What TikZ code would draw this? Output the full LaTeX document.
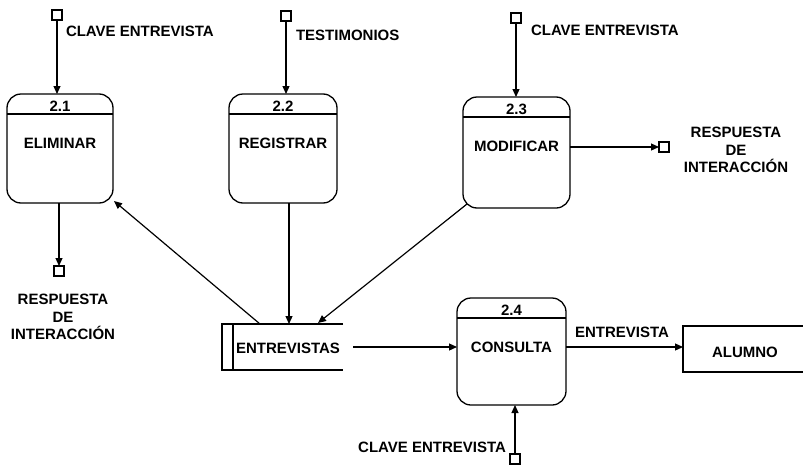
\documentclass[tikz,border=0pt]{standalone}
\usepackage{fontspec}
\setmainfont{Liberation Sans}
\usetikzlibrary{arrows.meta,calc}
\begin{document}
\begin{tikzpicture}[x=1pt,y=-1pt,
  every node/.style={font=\fontsize{15}{17.5}\selectfont\bfseries, inner sep=0pt, outer sep=0pt},
  proc/.style={draw, line width=1.3pt, rounded corners=14pt},
  ln/.style={line width=1.3pt},
  sq/.style={draw, line width=1.2pt, minimum size=10pt},
  arr/.style={line width=1.2pt, -{Triangle[length=8pt,width=7pt]}},
  lbl/.style={align=center}]
  \clip (0,0) rectangle (803,466);
  % processes
  \node[proc, minimum width=106pt, minimum height=109pt] (p21) at (60,148.5) {};
  \node[proc, minimum width=108pt, minimum height=109pt] (p22) at (283,148.5) {};
  \node[proc, minimum width=107pt, minimum height=111pt] (p23) at (516.5,152.5) {};
  \node[proc, minimum width=109pt, minimum height=107pt] (p24) at (511.5,351.5) {};
  \foreach \p/\n/\t in {p21/2.1/ELIMINAR, p22/2.2/REGISTRAR, p23/2.3/MODIFICAR, p24/2.4/CONSULTA}{
    \draw[ln] ([yshift=-20pt]\p.north west) -- ([yshift=-20pt]\p.north east);
    \node (\p num) at ([yshift=-12.5pt]\p.north) {\n};
    \node (\p txt) at ([yshift=-49pt]\p.north) {\t};
  }
  % data store
  \node[minimum width=121pt, minimum height=46pt] (st) at (282.5,347) {};
  \draw[ln] (st.north east) -- (st.north west) -- (st.south west) -- (st.south east);
  \draw[ln] ([xshift=11pt]st.north west) -- ([xshift=11pt]st.south west);
  \node (sttxt) at (288,348) {ENTREVISTAS};
  % external entity
  \node[minimum width=160pt, minimum height=46pt] (al) at (763,349) {};
  \draw[ln] (al.north east) -- (al.north west) -- (al.south west) -- (al.south east);
  \node (altxt) at (745,352) {ALUMNO};
  % small squares
  \node[sq] (sq1) at (57,15) {};
  \node[sq] (sq2) at (286,16) {};
  \node[sq] (sq3) at (516,18) {};
  \node[sq] (sq4) at (59,271) {};
  \node[sq] (sq5) at (664,147) {};
  \node[sq] (sq6) at (515,459) {};
  % coordinates
  \coordinate (s1) at (260,324);
  \coordinate (s2) at (289,324);
  \coordinate (s3) at (318,323);
  % connectors
  \draw[arr] (sq1) -- (sq1 |- p21.north);
  \draw[arr] (sq2) -- (sq2 |- p22.north);
  \draw[arr] (sq3) -- (sq3 |- p23.north);
  \draw[arr] (sq5 -| p23.east) -- (sq5.west);
  \draw[arr] (sq4 |- p21.south) -- (sq4.north);
  \draw[arr] (s1) -- ([shift={(1pt,2pt)}]p21.south east);
  \draw[arr] (s2 |- p22.south) -- (s2);
  \draw[arr] ([shift={(4pt,4pt)}]p23.south west) -- (s3);
  \draw[arr] ([xshift=10pt]st.east) -- (st.east -| p24.west);
  \draw[arr] (st.east -| p24.east) -- (st.east -| al.west);
  \draw[arr] (sq6) -- (sq6 |- p24.south);
  % labels
  \node[anchor=west] (l1) at (66,31) {CLAVE ENTREVISTA};
  \node[anchor=west] (l2) at (296,35) {TESTIMONIOS};
  \node[anchor=west] (l3) at (531,30) {CLAVE ENTREVISTA};
  \node[lbl] (l4) at (736,150) {RESPUESTA\\DE\\INTERACCIÓN};
  \node[lbl] (l5) at (63,317) {RESPUESTA\\DE\\INTERACCIÓN};
  \node (l6) at (622,332) {ENTREVISTA};
  \node[anchor=east] (l7) at (506,447) {CLAVE ENTREVISTA};
\end{tikzpicture}
\end{document}
